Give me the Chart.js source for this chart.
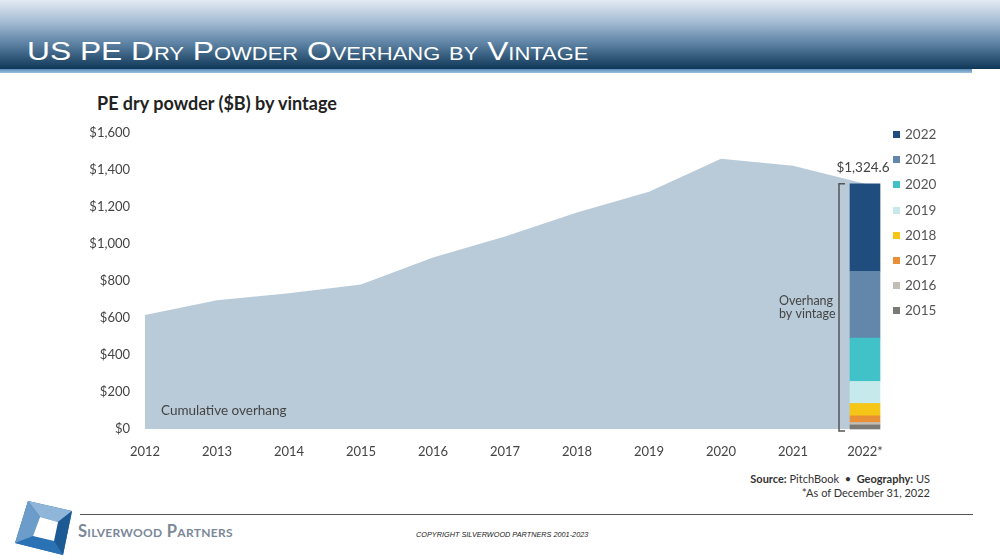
<!DOCTYPE html>
<html>
<head>
<meta charset="utf-8">
<script src="https://cdn.jsdelivr.net/npm/chart.js@4"></script>
<style>
  html, body { margin: 0; padding: 0; background: #fff; }
  body { width: 1000px; height: 560px; position: relative; overflow: hidden; font-family: "Liberation Sans", Arial, sans-serif; }
  #topbar { position: absolute; left: 0; top: 0; width: 1000px; height: 69px;
    background: linear-gradient(to bottom, #e3eaf3 0%, #a9bfd6 30%, #5f84a6 62%, #0f3757 100%); }
  #strip { position: absolute; left: 0; top: 69px; width: 972px; height: 4px;
    background: linear-gradient(to bottom, #5a8cb8, #9dbfde); }
  #pagetitle { position: absolute; left: 27px; top: 36px; color: #fff; font-size: 26px;
    font-variant: small-caps; transform: scaleX(1.22); transform-origin: left top; white-space: nowrap; }
  #charttitle { position: absolute; left: 97px; top: 92px; font-family: Lato, "Open Sans", sans-serif;
    font-weight: 700; font-size: 18px; color: #222; }
  #chartbox { position: absolute; left: 0; top: 110px; width: 1000px; height: 360px; }
  #legend { position: absolute; left: 893px; top: 124px; font-family: Lato, sans-serif;
    font-size: 13.5px; color: #555; }
  #legend div { height: 25.2px; line-height: 21px; white-space: nowrap; }
  #legend span.sw { display: inline-block; width: 7px; height: 7px; margin-right: 5px; vertical-align: 1px; }
  #source { position: absolute; right: 70px; top: 472px; text-align: right; font-family: Lato, "Open Sans", sans-serif;
    font-size: 11px; color: #333; line-height: 14px; }
  #rule { position: absolute; left: 80px; top: 514px; width: 893px; height: 0; border-top: 1.5px solid #555; }
  #brand { position: absolute; left: 78px; top: 521px; font-family: Lato, "Open Sans", sans-serif; font-weight: 700;
    font-size: 16.5px; font-variant: small-caps; color: #7b8898; letter-spacing: 0.3px; }
  #copy { position: absolute; left: 416px; top: 530px; font-style: italic; font-size: 7.3px; color: #222; }
  #logo { position: absolute; left: 0; top: 495px; }
</style>
</head>
<body>
<div id="topbar"></div>
<div id="strip"></div>
<div id="pagetitle">US PE Dry Powder Overhang by Vintage</div>
<div id="charttitle">PE dry powder ($B) by vintage</div>
<div id="chartbox"><canvas id="chart"></canvas></div>
<div id="legend"></div>
<div id="source"><b>Source:</b> PitchBook&nbsp; •&nbsp; <b>Geography:</b> US<br>*As of December 31, 2022</div>
<div id="rule"></div>
<svg id="logo" width="80" height="65">
  <polygon points="28,6 72,16 63,60 15,48" fill="#2f6fa8"/>
  <polygon points="28,6 72,16 58,27 40,22" fill="#8fb5d9"/>
  <polygon points="72,16 63,60 54,46 58,27" fill="#1d5a94"/>
  <polygon points="63,60 15,48 33,41 54,46" fill="#2a72b3"/>
  <polygon points="15,48 28,6 40,22 33,41" fill="#6c9cc9"/>
  <polygon points="40,22 58,27 54,46 33,41" fill="#ffffff"/>
</svg>
<div id="brand">Silverwood Partners</div>
<div id="copy">COPYRIGHT SILVERWOOD PARTNERS 2001-2023</div>

<script>
const years = ['2012', '2013', '2014', '2015', '2016', '2017', '2018', '2019', '2020', '2021', '2022*'];
const cumulative = [616, 695, 733, 780, 927, 1040, 1169, 1282, 1460, 1422, 1324.6];
const vintages = ['2015', '2016', '2017', '2018', '2019', '2020', '2021', '2022'];
const vintageValues = [22, 13, 36, 67, 119, 234, 361, 472.6];
const vintageColors = ['#7b7976', '#c2beb6', '#e98f35', '#f5c518', '#c6eaeb', '#41c2c8', '#6387ab', '#1f4e7e'];
const yTicks = [0, 200, 400, 600, 800, 1000, 1200, 1400, 1600];
const total2022 = '$1,324.6';

const tickFont = { family: 'Lato, sans-serif', size: 13 };

// bar datasets only carry the last category
const barSets = vintages.map((v, i) => ({
    type: 'bar',
    label: v,
    data: years.map((y, j) => j === years.length - 1 ? vintageValues[i] : null),
    backgroundColor: vintageColors[i],
    borderWidth: 0,
    barThickness: 30,
    stack: 'vintage',
    clip: false,
    order: 1
}));

// legend, newest first
const legendEl = document.getElementById('legend');
for (let i = vintages.length - 1; i >= 0; i--) {
    const row = document.createElement('div');
    row.innerHTML = `<span class="sw" style="background:${vintageColors[i]}"></span>${vintages[i]}`;
    legendEl.appendChild(row);
}

const notes = {
    id: 'notes',
    afterDatasetsDraw(chart) {
        const c = chart.ctx;
        const x = chart.scales.x, y = chart.scales.y;
        const xLast = x.getPixelForValue(years.length - 1);
        const yTop = y.getPixelForValue(cumulative[cumulative.length - 1]);
        const yZero = y.getPixelForValue(0);
        c.save();
        c.font = '13.5px ' + tickFont.family;
        c.fillStyle = '#444';
        c.textBaseline = 'middle';
        c.textAlign = 'center';
        c.fillText(total2022, xLast - 2, yTop - 16);
        c.textAlign = 'left';
        c.font = '12.5px ' + tickFont.family;
        c.fillText('Overhang', xLast - 86, 191);
        c.fillText('by vintage', xLast - 86, 204);
        c.font = '13.5px ' + tickFont.family;
        c.fillText('Cumulative overhang', x.getPixelForValue(0) + 16, 301);
        // bracket
        c.strokeStyle = '#555';
        c.lineWidth = 1.5;
        c.beginPath();
        c.moveTo(xLast - 20, yTop);
        c.lineTo(xLast - 26, yTop);
        c.lineTo(xLast - 26, yZero + 2);
        c.lineTo(xLast - 20, yZero + 2);
        c.stroke();
        c.restore();
    }
};

new Chart(document.getElementById('chart'), {
    data: {
        labels: years,
        datasets: [
            {
                type: 'line',
                label: 'Cumulative overhang',
                data: cumulative,
                backgroundColor: '#b9cbd8',
                borderWidth: 0,
                pointRadius: 0,
                fill: 'origin',
                tension: 0,
                stack: 'area',
                order: 2
            },
            ...barSets
        ]
    },
    options: {
        responsive: true,
        maintainAspectRatio: false,
        animation: false,
        layout: { padding: { left: 0, right: 135, top: 2, bottom: 0 } },
        plugins: {
            legend: { display: false },
            tooltip: { enabled: false }
        },
        scales: {
            x: {
                offset: false,
                stacked: true,
                grid: { display: false, drawTicks: false },
                border: { display: false },
                ticks: { color: '#444', font: tickFont, padding: 15, maxRotation: 0 },
                afterFit(s) { s.height = 41; }
            },
            y: {
                stacked: true,
                min: 0,
                max: 1600,
                afterBuildTicks(s) { s.ticks = yTicks.map(v => ({ value: v })); },
                grid: { display: false, drawTicks: false },
                border: { display: false },
                ticks: {
                    color: '#444',
                    font: tickFont,
                    padding: 15,
                    callback: v => '$' + v.toLocaleString('en-US')
                },
                afterFit(s) { s.width = 145; }
            }
        }
    },
    plugins: [notes]
});
</script>
</body>
</html>
